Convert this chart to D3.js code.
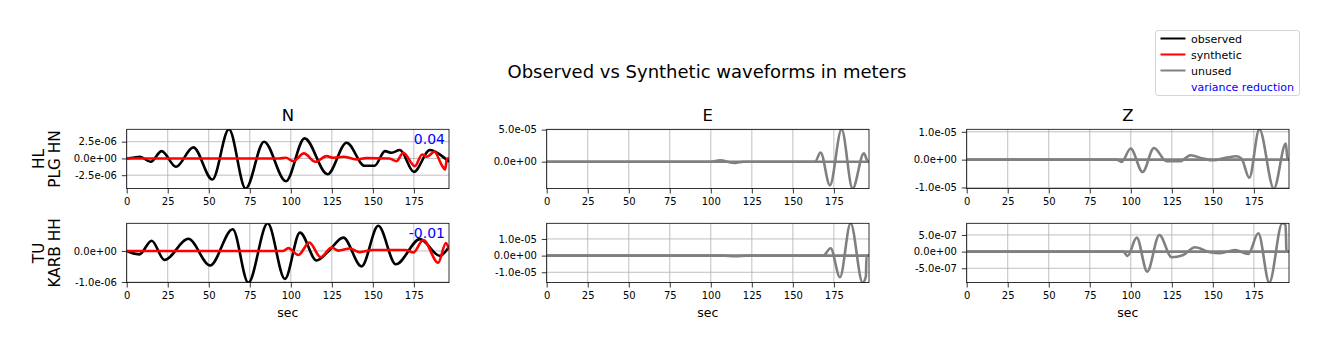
<!DOCTYPE html>
<html>
<head>
<meta charset="utf-8">
<script src="https://cdn.jsdelivr.net/npm/d3@7"></script>
<style>
  body { margin: 0; background: #fff; }
  text { font-family: "DejaVu Sans", sans-serif; }
</style>
</head>
<body>
<div id="chart-area"></div>
<script>

// ---- data (time in s, displacement in m) ----
var timeMax = 196.4;
var components = ["N", "E", "Z"];
var stations = [["HL", "PLG HN"], ["TU", "KARB HH"]];
var varianceReduction = ["0.04", "-0.01"];
var xTicks = [0, 25, 50, 75, 100, 125, 150, 175];

// HL PLG HN
var plgN_obs = [[0,0],[4,0.1e-6],[8,0.25e-6],[14.6,-0.5e-6],[21.3,1.1e-6],[30,-1.25e-6],[40.6,1.65e-6],[52.2,-3.15e-6],[62.3,4.35e-6],[72.5,-4.5e-6],[83.7,2.5e-6],[97,-3.4e-6],[108.4,3.0e-6],[122.4,-2.35e-6],[134,2.35e-6],[145,-1.1e-6],[151,-1.1e-6],[157.4,1.1e-6],[161.4,0.85e-6],[166.5,1.25e-6],[175,-2.0e-6],[184.8,1.25e-6],[194,0],[196.4,-0.5e-6]];
var plgN_syn = [[0,0],[93,0],[97,0.1e-6],[101.5,-0.4e-6],[108,0.75e-6],[115,-0.5e-6],[121.8,0.35e-6],[126,0.1e-6],[132,0.25e-6],[140,-0.15e-6],[146,0.05e-6],[160,0],[164.5,-0.4e-6],[168.5,0.85e-6],[175.6,-1.15e-6],[180,0.6e-6],[183,0.25e-6],[187.5,1.0e-6],[192,-1.0e-6],[194,-1.65e-6],[195.2,0],[196.4,0]];
var plgE_obs = [[0,0],[163.5,0],[166.9,1.42e-5],[172.6,-3.68e-5],[179.7,5.05e-5],[186.4,-4.2e-5],[193.3,1.3e-5],[195.8,0],[196.4,0]];
var plgE_syn = [[0,0],[100,0],[105.6,0.2e-5],[114.7,-0.2e-5],[120,0],[196.4,0]];
var plgZ_obs = [[0,0],[91.4,0],[94.4,-0.84e-6],[99.9,4.0e-6],[107.2,-4.46e-6],[114.1,4.2e-6],[121.8,-0.6e-6],[130,-0.6e-6],[136.4,1.57e-6],[144.2,0.36e-6],[150.3,-0.24e-6],[158.4,0.72e-6],[164.5,1.2e-6],[167.5,0.36e-6],[172.2,-6.5e-6],[178.3,10.9e-6],[187.2,-10.4e-6],[194.5,5.8e-6],[195.5,0],[196.4,0]];
var plgZ_syn = [[0,0],[196.4,0]];

// TU KARB HH
var karbN_obs = [[0,0],[7.7,-0.11e-6],[15.2,0.33e-6],[23,-0.29e-6],[37.6,0.39e-6],[50.8,-0.47e-6],[64.6,0.70e-6],[74.1,-1.02e-6],[85.9,0.89e-6],[96.4,-0.90e-6],[105.6,0.59e-6],[115.7,-0.31e-6],[122.8,-0.02e-6],[132,0.43e-6],[143.1,-0.5e-6],[153.3,0.81e-6],[164,-0.43e-6],[178.7,0.38e-6],[190.9,-0.16e-6],[196.4,0.14e-6]];
var karbN_syn = [[0,0],[95.4,0],[98.5,0.09e-6],[104.6,-0.13e-6],[111.3,0.27e-6],[118.2,-0.2e-6],[124.9,0.11e-6],[129,0.01e-6],[136,0.08e-6],[142,-0.04e-6],[150,0.03e-6],[170,0.03e-6],[174.6,-0.05e-6],[180.7,0.35e-6],[189.8,-0.38e-6],[194.5,0.25e-6],[196.4,0.05e-6]];
var karbE_obs = [[0,0],[168.5,0],[173,4.4e-6],[178.7,-13e-6],[185.2,19.4e-6],[192.5,-16.2e-6],[194.5,-12.6e-6],[194.9,0],[196.4,0]];
var karbE_syn = [[0,0],[108,0],[115,-0.4e-6],[122,0],[196.4,0]];
var karbZ_obs = [[0,0],[95.4,0],[98,-1.3e-7],[103.6,4.2e-7],[110,-6.0e-7],[117.4,5.0e-7],[124.9,-1.7e-7],[132,-1.0e-7],[139.1,1.3e-7],[148.2,-0.2e-7],[154.3,-0.5e-7],[163.5,0.5e-7],[171.6,-0.7e-7],[177.7,5.5e-7],[184.4,-9.3e-7],[192.3,8.5e-7],[194.3,8.0e-7],[194.9,0],[196.4,0]];
var karbZ_syn = [[0,0],[196.4,0]];

// y tick values per panel
var plgN_yticks = [-2.5e-6, 0, 2.5e-6];
var plgE_yticks = [0, 5e-5];
var plgZ_yticks = [-1e-5, 0, 1e-5];
var karbN_yticks = [-1e-6, 0];
var karbE_yticks = [-1e-5, 0, 1e-5];
var karbZ_yticks = [-5e-7, 0, 5e-7];

var panels = [
    { row: 0, col: 0, obs: plgN_obs, syn: plgN_syn, ticks: plgN_yticks, used: true },
    { row: 0, col: 1, obs: plgE_obs, syn: plgE_syn, ticks: plgE_yticks, used: false },
    { row: 0, col: 2, obs: plgZ_obs, syn: plgZ_syn, ticks: plgZ_yticks, used: false },
    { row: 1, col: 0, obs: karbN_obs, syn: karbN_syn, ticks: karbN_yticks, used: true },
    { row: 1, col: 1, obs: karbE_obs, syn: karbE_syn, ticks: karbE_yticks, used: false },
    { row: 1, col: 2, obs: karbZ_obs, syn: karbZ_syn, ticks: karbZ_yticks, used: false }
];

// ---- layout ----
var colLeft = [126.7, 546.7, 966.7],
    rowTop = [129.3, 223.3],
    panelW = 322.3,
    panelH = 59.3;

var svg = d3.select("#chart-area")
    .append("svg")
    .attr("width", 1329)
    .attr("height", 351);

function sciFormat(v) {
    var s = v.toExponential(1).split("e");
    var e = +s[1];
    return s[0] + "e" + (e < 0 ? "-" : "+") + String(Math.abs(e)).padStart(2, "0");
}

var xScale = d3.scaleLinear().domain([0, timeMax]).range([0, panelW]);

svg.append("text")
    .attr("x", 707)
    .attr("y", 78)
    .attr("text-anchor", "middle")
    .style("font-size", "18px")
    .text("Observed vs Synthetic waveforms in meters");

panels.forEach(function(p, i) {
    var g = svg.append("g")
        .attr("transform", "translate(" + colLeft[p.col] + "," + rowTop[p.row] + ")");

    var ext = d3.extent(p.obs.concat(p.syn), function(d) { return d[1]; });
    var yScale = d3.scaleLinear().domain(ext).range([panelH, 0]);

    // grid
    g.append("g")
        .selectAll("line.gx")
        .data(xTicks)
        .enter().append("line")
        .attr("x1", function(d) { return xScale(d); })
        .attr("x2", function(d) { return xScale(d); })
        .attr("y1", 0).attr("y2", panelH)
        .attr("stroke", "#b0b0b0").attr("stroke-width", 0.8);
    g.append("g")
        .selectAll("line.gy")
        .data(p.ticks)
        .enter().append("line")
        .attr("y1", function(d) { return yScale(d); })
        .attr("y2", function(d) { return yScale(d); })
        .attr("x1", 0).attr("x2", panelW)
        .attr("stroke", "#b0b0b0").attr("stroke-width", 0.8);

    var clipId = "clip" + i;
    g.append("clipPath").attr("id", clipId)
        .append("rect").attr("width", panelW).attr("height", panelH);

    var line = d3.line()
        .x(function(d) { return xScale(d[0]); })
        .y(function(d) { return yScale(d[1]); })
        .curve(d3.curveMonotoneX);

    var plot = g.append("g").attr("clip-path", "url(#" + clipId + ")");
    plot.append("path")
        .attr("d", line(p.obs))
        .attr("fill", "none")
        .attr("stroke", p.used ? "black" : "gray")
        .attr("stroke-width", 2.6);
    plot.append("path")
        .attr("d", line(p.syn))
        .attr("fill", "none")
        .attr("stroke", p.used ? "red" : "gray")
        .attr("stroke-width", 2.6);

    // axes
    var xAxis = g.append("g")
        .attr("transform", "translate(0," + panelH + ")")
        .call(d3.axisBottom(xScale).tickValues(xTicks).tickSize(4.9).tickPadding(4.9).tickSizeOuter(0));
    var yAxis = g.append("g")
        .call(d3.axisLeft(yScale).tickValues(p.ticks).tickFormat(sciFormat).tickSize(4.9).tickPadding(4.9).tickSizeOuter(0));
    [xAxis, yAxis].forEach(function(a) {
        a.select(".domain").remove();
        a.selectAll("text").style("font-size", "10px").style("font-family", "DejaVu Sans").attr("fill", "black");
        a.selectAll("line").attr("stroke", "black").attr("stroke-width", 0.8);
    });

    g.append("rect")
        .attr("width", panelW).attr("height", panelH)
        .attr("fill", "none").attr("stroke", "black").attr("stroke-width", 0.8);

    if (p.row === 0) {
        g.append("text")
            .attr("x", panelW / 2).attr("y", -8)
            .attr("text-anchor", "middle")
            .style("font-size", "16.5px")
            .text(components[p.col]);
    }
    if (p.row === 1) {
        g.append("text")
            .attr("x", panelW / 2).attr("y", panelH + 34)
            .attr("text-anchor", "middle")
            .style("font-size", "12.5px")
            .text("sec");
    }
    if (p.used) {
        g.append("text")
            .attr("x", panelW - 4).attr("y", 15)
            .attr("text-anchor", "end")
            .attr("fill", "blue")
            .style("font-size", "14px")
            .text(varianceReduction[p.row]);
    }
    if (p.col === 0) {
        var lab = svg.append("text")
            .attr("transform", "translate(43.5," + (rowTop[p.row] + panelH / 2) + ") rotate(-90)")
            .attr("text-anchor", "middle")
            .style("font-size", "15.3px");
        stations[p.row].forEach(function(s, k) {
            lab.append("tspan").attr("x", 0).attr("y", k * 16.5).text(s);
        });
    }
});

// legend
var legendItems = [
    { label: "observed", color: "black" },
    { label: "synthetic", color: "red" },
    { label: "unused", color: "gray" },
    { label: "variance reduction", color: null }
];
var legend = svg.append("g").attr("transform", "translate(1155.5,30.5)");
legend.append("rect")
    .attr("width", 144).attr("height", 65)
    .attr("rx", 2.5)
    .attr("fill", "white").attr("stroke", "#cccccc").attr("stroke-width", 0.8);
legendItems.forEach(function(d, k) {
    var y = 8 + k * 16;
    if (d.color) {
        legend.append("line")
            .attr("x1", 5).attr("x2", 30).attr("y1", y).attr("y2", y)
            .attr("stroke", d.color).attr("stroke-width", 2);
    }
    legend.append("text")
        .attr("x", 35.5).attr("y", y + 4)
        .attr("fill", d.color ? "black" : "blue")
        .style("font-size", "11px")
        .text(d.label);
});

</script>
</body>
</html>
